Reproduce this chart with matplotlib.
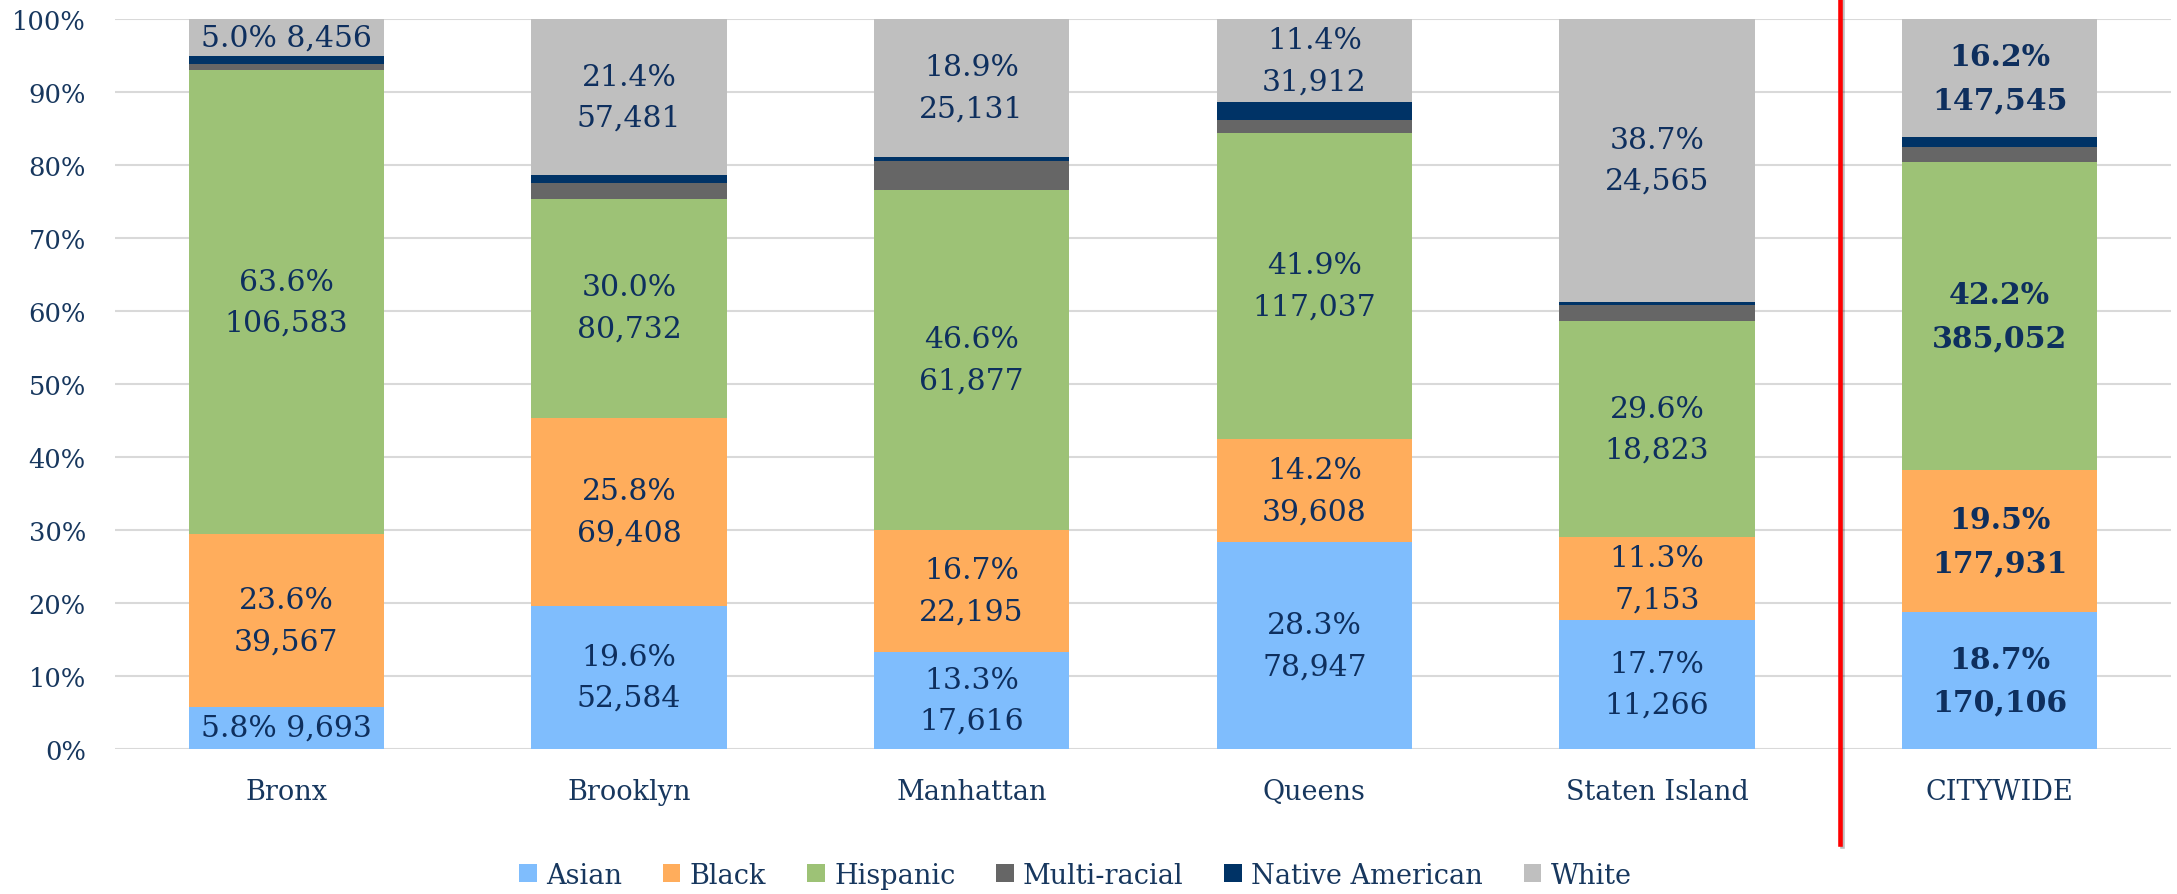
import numpy as np
import matplotlib
matplotlib.use('Agg')
import matplotlib.pyplot as plt
import matplotlib.patheffects as pe
from matplotlib.patches import Patch

plt.rcParams['font.family'] = ['DejaVu Serif']

boroughs = ['Bronx', 'Brooklyn', 'Manhattan', 'Queens', 'Staten Island', 'CITYWIDE']
groups = ['Asian', 'Black', 'Hispanic', 'Multi-racial', 'Native American', 'White']

# share of students (%) per group
asian_pct = [5.8, 19.6, 13.3, 28.3, 17.7, 18.7]
black_pct = [23.6, 25.8, 16.7, 14.2, 11.3, 19.5]
hispanic_pct = [63.6, 30.0, 46.6, 41.9, 29.6, 42.2]
multi_pct = [0.9, 2.2, 3.9, 1.8, 2.2, 2.1]
native_pct = [1.1, 1.0, 0.6, 2.4, 0.5, 1.3]
white_pct = [5.0, 21.4, 18.9, 11.4, 38.7, 16.2]

# counts shown in the labels
asian_n = [9693, 52584, 17616, 78947, 11266, 170106]
black_n = [39567, 69408, 22195, 39608, 7153, 177931]
hispanic_n = [106583, 80732, 61877, 117037, 18823, 385052]
white_n = [8456, 57481, 25131, 31912, 24565, 147545]

colors = ['#7FBDFD', '#FFAD5C', '#9DC276', '#666666', '#003366', '#BFBFBF']
label_color = '#0E2F5E'
tick_color = '#17375E'


def main():
    fig = plt.figure(figsize=(21.77, 8.95), dpi=100)
    ax = fig.add_axes([115 / 2177, 1 - 750 / 895, 2056 / 2177, 730 / 895])

    x = np.arange(len(boroughs))
    width = 0.57
    series = [asian_pct, black_pct, hispanic_pct, multi_pct, native_pct, white_pct]
    counts = [asian_n, black_n, hispanic_n, None, None, white_n]

    bottom = np.zeros(len(boroughs))
    for vals, cnt, col, name in zip(series, counts, colors, groups):
        vals = np.array(vals)
        ax.bar(x, vals, width, bottom=bottom, color=col, edgecolor='none',
               label=name, zorder=2)
        if cnt is not None:
            for i in range(len(boroughs)):
                sep = ' ' if vals[i] < 8 else '\n'
                txt = f'{vals[i]:.1f}%{sep}{cnt[i]:,}'
                bold = boroughs[i] == 'CITYWIDE'
                ax.text(x[i], bottom[i] + vals[i] / 2, txt, ha='center',
                        va='center', fontsize=21.5, color=label_color,
                        linespacing=1.6,
                        fontweight='bold' if bold else 'normal', zorder=3)
        bottom += vals

    ax.set_xlim(-0.5, len(boroughs) - 0.5)
    ax.set_ylim(0, 100)
    ax.set_yticks(np.arange(0, 101, 10))
    ax.set_yticklabels([f'{v}%' for v in range(0, 101, 10)])
    ax.set_xticks(x)
    ax.set_xticklabels(boroughs)
    ax.tick_params(axis='both', length=0, colors=tick_color)
    ax.tick_params(axis='y', pad=21, labelsize=18.5)
    ax.tick_params(axis='x', pad=21, labelsize=19.5)
    ax.grid(axis='y', color='#D9D9D9', linewidth=1.5, zorder=0)
    ax.set_axisbelow(True)
    for s in ax.spines.values():
        s.set_visible(False)

    # separator between the boroughs and the citywide bar
    ax.axvline(4.534, ymin=-0.13, ymax=1.03, color='#FF0000', lw=3.3,
               clip_on=False, zorder=4,
               path_effects=[pe.SimpleLineShadow(offset=(1.5, -1.5),
                                                 alpha=0.25),
                             pe.Normal()])

    handles = [Patch(facecolor=c, edgecolor='none') for c in colors]
    fig.legend(handles, groups, loc='center', bbox_to_anchor=(0.494, 0.021),
               ncol=6, frameon=False, fontsize=19.5, labelcolor=tick_color,
               handlelength=0.65, handleheight=0.65, handletextpad=0.35,
               columnspacing=1.5)

    fig.savefig('out.png', dpi=100)


if __name__ == "__main__":
    main()
